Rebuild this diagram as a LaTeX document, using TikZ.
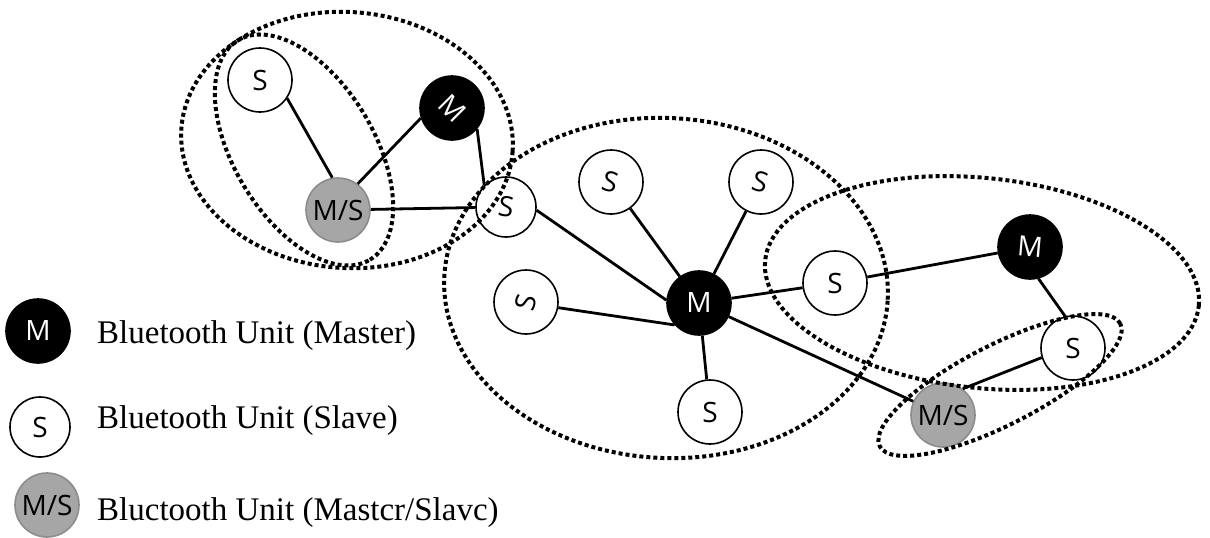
\documentclass[tikz,border=0pt]{standalone}
\usepackage{fontspec}
\usepackage{graphicx}
\setmainfont{Liberation Serif}
\newfontfamily\nodefont{Open Sans}
\definecolor{msgray}{HTML}{A6A6A6}
\definecolor{msborder}{HTML}{8C8C8C}
\begin{document}
\begin{tikzpicture}[x=1pt,y=-1pt,
  unit/.style={circle,minimum size=64pt,inner sep=0pt,line width=1.6pt,
    font=\nodefont\fontsize{28}{30}\selectfont},
  slave/.style={unit,draw=black,fill=white,text=black},
  master/.style={unit,draw=black,fill=black,text=white},
  mslave/.style={unit,draw=msborder,fill=msgray,text=black},
  link/.style={line width=2.8pt,black},
  piconet/.style={line width=4pt,dash pattern=on 4pt off 3pt,black},
  legtext/.style={anchor=base west,inner sep=0pt,font=\fontsize{33}{40}\selectfont}]
\useasboundingbox (0,0) rectangle (1210,538);
% left scatternet part
\node[slave]  (stl) at (260,80)  {S};
\node[master] (ml)  at (452,108) {\rotatebox{-45}{M}};
\node[mslave] (msl) at (338,210) {M/S};
\node[slave,minimum size=60pt]  (sj)  at (506,207) {\rotatebox{-8}{S}};
% central piconet
\node[slave]  (s1) at (611,182) {\rotatebox{-15}{S}};
\node[slave]  (s2) at (761,182) {\rotatebox{-15}{S}};
\node[slave]  (s3) at (526,302) {\rotatebox{75}{S}};
\node[master] (mc) at (699,303) {M};
\node[slave]  (s4) at (710,412) {S};
\node[slave]  (s5) at (835,283) {S};
% right piconets
\node[master] (mr)  at (1030,247) {\rotatebox{-5}{M}};
\node[slave]  (s6)  at (1073,348) {S};
\node[mslave] (msr) at (943,415) {M/S};
% links
\draw[link] (stl.-34) -- (msl.100);
\draw[link] (msl.53) -- (ml.198);
\draw[link] (ml.-40) -- (sj.135);
\draw[link] (msl) -- (sj);
\draw[link] (sj.-6) -- (mc.175);
\draw[link] (s1) -- (mc);
\draw[link] (s2) -- (mc);
\draw[link] (s3.-10) -- (mc.222);
\draw[link] (mc) -- (s4);
\draw[link] (mc) -- (s5);
\draw[link] (mc) -- (msr);
\draw[link] (s5) -- (mr);
\draw[link] (mr.-75) -- (s6.104);
\draw[link] (s6.197) -- (msr.53);
% piconet boundaries
\draw[piconet,rotate around={-4:(347,140)}] (347,140) ellipse [x radius=166pt, y radius=128pt];
\draw[piconet,rotate around={-59:(304,150)}] (304,150) ellipse [x radius=128pt, y radius=70pt];
\draw[piconet,rotate around={-3:(666,288)}] (666,288) ellipse [x radius=222pt, y radius=170pt];
\draw[piconet,rotate around={-6:(982,283)}] (982,283) ellipse [x radius=218pt, y radius=105pt];
\draw[piconet,rotate around={27:(1000,385)}] (1000,385) ellipse [x radius=135pt, y radius=40pt];
% legend
\node[master] (lm)  at (38,331) {M};
\node[slave,minimum size=60pt] (ls)  at (40,427) {S};
\node[mslave] (lms) at (47,505) {M/S};
\node[legtext] (tm)  at (97,343) {Bluetooth Unit (Master)};
\node[legtext] (ts)  at (97,428) {Bluetooth Unit (Slave)};
\node[legtext] (tms) at (97,520) {Bluctooth Unit (Mastcr/Slavc)};
\end{tikzpicture}
\end{document}
